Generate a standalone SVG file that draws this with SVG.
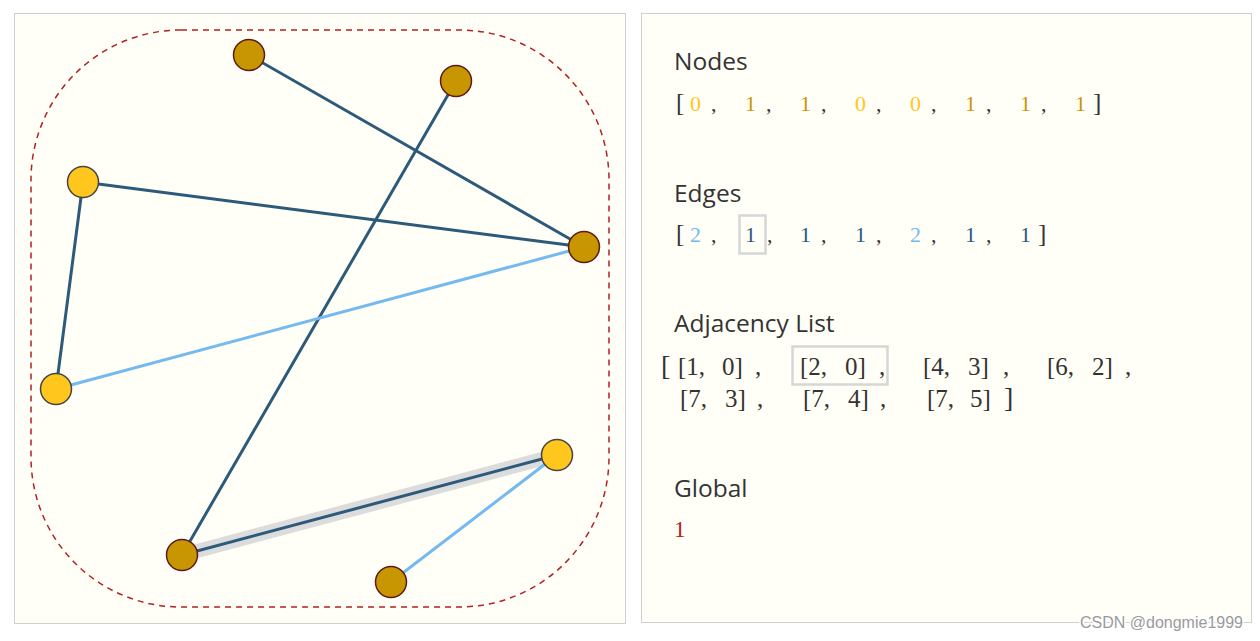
<svg xmlns="http://www.w3.org/2000/svg" width="1260" height="641" viewBox="0 0 1260 641">
<style>
.panel{fill:#fffff7;stroke:#cfcfcf;stroke-width:1}
.hull{fill:none;stroke:#b22222;stroke-width:1.5;stroke-dasharray:6 5}
.dark{stroke:#2d5a7b;stroke-width:3;stroke-linecap:round}
.light{stroke:#74b9f0;stroke-width:3;stroke-linecap:round}
.hl{stroke:#dcdcdc;stroke-width:14}
.n0{fill:#ffc61e;stroke:#444;stroke-width:1.5}
.n1{fill:#c89600;stroke:#5c1a1a;stroke-width:1.5}
.h{font-family:"Open Sans","Liberation Sans",sans-serif;font-size:24.5px;fill:#333}
.v{font-family:"Liberation Serif",serif;font-size:22px;fill:#333}
.b{font-size:25px}
.a{font-family:"Liberation Serif",serif;font-size:25px;fill:#333}
.c0{fill:#ffc61e}
.c1{fill:#c89600}
.e1{fill:#2d5a7b}
.e2{fill:#74b9f0}
.box{fill:none;stroke:#d6d6d6;stroke-width:2.5}
</style>
<rect class="panel" x="14.5" y="13.5" width="611" height="610"/>
<rect class="panel" x="641.5" y="13.5" width="610" height="609"/>
<rect class="hull" x="31" y="30" width="578" height="577" rx="150" ry="150"/>
<g id="connectors">
<line class="hl" x1="182" y1="555" x2="557" y2="455"/>
<line class="dark" x1="249" y1="55" x2="584" y2="247"/>
<line class="dark" x1="456" y1="81" x2="182" y2="555"/>
<line class="dark" x1="83" y1="182" x2="584" y2="247"/>
<line class="dark" x1="83" y1="182" x2="56" y2="389"/>
<line class="light" x1="56" y1="389" x2="584" y2="247"/>
<line class="dark" x1="182" y1="555" x2="557" y2="455"/>
<line class="light" x1="557" y1="455" x2="391" y2="582"/>
</g>
<g id="node-a"><circle class="n1" cx="249" cy="55" r="15.5"/></g>
<g id="node-b"><circle class="n1" cx="456" cy="81" r="15.5"/></g>
<g id="node-c"><circle class="n0" cx="83" cy="182" r="15.5"/></g>
<g id="node-d"><circle class="n1" cx="584" cy="247" r="15.5"/></g>
<g id="node-e"><circle class="n0" cx="56" cy="389" r="15.5"/></g>
<g id="node-f"><circle class="n0" cx="557" cy="455" r="15.5"/></g>
<g id="node-g"><circle class="n1" cx="182" cy="555" r="15.5"/></g>
<g id="node-h"><circle class="n1" cx="391" cy="582" r="15.5"/></g>
<g id="nodes-list">
<text class="h" x="674" y="70">Nodes</text>
<text class="v" y="111"><tspan x="676" class="b">[</tspan><tspan x="690" class="c0">0</tspan><tspan x="711">,</tspan><tspan x="745" class="c1">1</tspan><tspan x="766">,</tspan><tspan x="800" class="c1">1</tspan><tspan x="821">,</tspan><tspan x="855" class="c0">0</tspan><tspan x="876">,</tspan><tspan x="910" class="c0">0</tspan><tspan x="931">,</tspan><tspan x="965" class="c1">1</tspan><tspan x="986">,</tspan><tspan x="1020" class="c1">1</tspan><tspan x="1041">,</tspan><tspan x="1075" class="c1">1</tspan><tspan x="1093" class="b">]</tspan></text>
</g>
<g id="edges-list">
<text class="h" x="674" y="202">Edges</text>
<rect class="box" x="739.5" y="215.5" width="26" height="38"/>
<text class="v" y="242"><tspan x="676" class="b">[</tspan><tspan x="690" class="e2">2</tspan><tspan x="711">,</tspan><tspan x="745" class="e1">1</tspan><tspan x="767">,</tspan><tspan x="800" class="e1">1</tspan><tspan x="821">,</tspan><tspan x="855" class="e1">1</tspan><tspan x="876">,</tspan><tspan x="910" class="e2">2</tspan><tspan x="931">,</tspan><tspan x="965" class="e1">1</tspan><tspan x="986">,</tspan><tspan x="1020" class="e1">1</tspan><tspan x="1038" class="b">]</tspan></text>
</g>
<g id="adjacency-list">
<text class="h" x="674" y="332">Adjacency List</text>
<rect class="box" x="792.5" y="346.5" width="95" height="38"/>
<text class="a" y="375"><tspan x="661" style="font-size:28px">[</tspan><tspan x="678">[1,</tspan><tspan x="722">0]</tspan><tspan x="755">,</tspan><tspan x="800">[2,</tspan><tspan x="845">0]</tspan><tspan x="879">,</tspan><tspan x="923">[4,</tspan><tspan x="968">3]</tspan><tspan x="1003">,</tspan><tspan x="1047">[6,</tspan><tspan x="1092">2]</tspan><tspan x="1125">,</tspan></text>
<text class="a" y="407"><tspan x="680">[7,</tspan><tspan x="725">3]</tspan><tspan x="757">,</tspan><tspan x="803">[7,</tspan><tspan x="848">4]</tspan><tspan x="880">,</tspan><tspan x="927">[7,</tspan><tspan x="970">5]</tspan><tspan x="1004" style="font-size:28px">]</tspan></text>
</g>
<g id="global">
<text class="h" x="674" y="497">Global</text>
<text class="v" x="674" y="537" style="fill:#b22222;font-size:23px">1</text>
</g>
<text x="1080" y="628" style="font-family:'Liberation Sans',sans-serif;font-size:16px;fill:#9a9a9a;stroke:#ffffff;stroke-width:3;paint-order:stroke">CSDN @dongmie1999</text>
</svg>
